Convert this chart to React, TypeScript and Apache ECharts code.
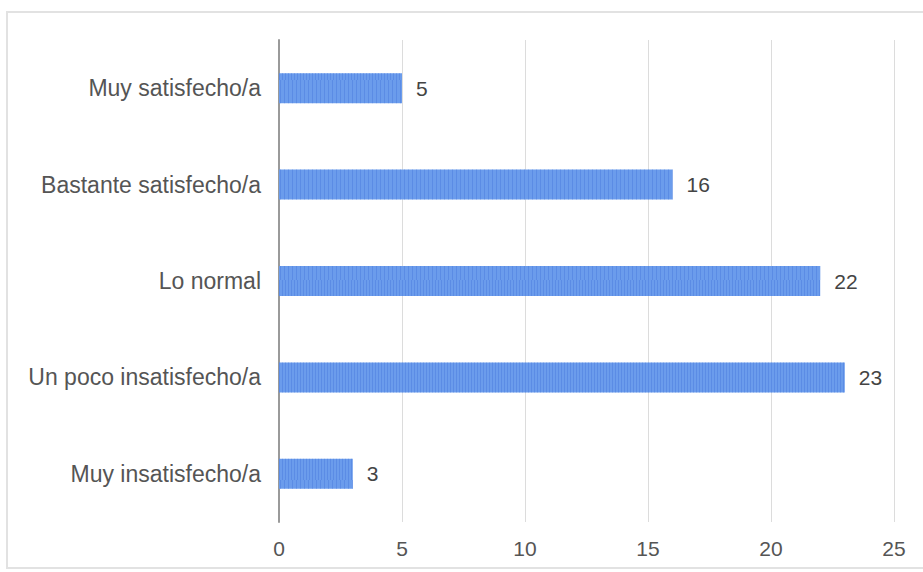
import React, { useEffect, useRef } from "react";
import * as echarts from "echarts";

const categories = [
  "Muy satisfecho/a",
  "Bastante satisfecho/a",
  "Lo normal",
  "Un poco insatisfecho/a",
  "Muy insatisfecho/a",
];
const values = [5, 16, 22, 23, 3];
const xTicks = [0, 5, 10, 15, 20, 25];

export default function App() {
  const ref = useRef<HTMLDivElement>(null);
  useEffect(() => {
    document.body.style.margin = "0";
    const chart = echarts.init(ref.current!, null, { renderer: "svg" });
    chart.setOption({
      animation: false,
      backgroundColor: "#ffffff",
      textStyle: { fontFamily: "Liberation Sans, Arial, sans-serif" },
      graphic: [
        {
          type: "rect",
          shape: { x: 7, y: 12, width: 940, height: 556 },
          style: { fill: "none", stroke: "#e2e2e2", lineWidth: 2 },
          silent: true,
        },
      ],
      grid: { left: 279, right: 29, top: 40, bottom: 50, containLabel: false },
      xAxis: {
        type: "value",
        min: xTicks[0],
        max: xTicks[xTicks.length - 1],
        interval: 5,
        axisLine: { show: false },
        axisTick: { show: false },
        splitLine: { show: true, lineStyle: { color: "#dcdcdc", width: 1 } },
        axisLabel: { color: "#555", fontSize: 21, margin: 16 },
      },
      yAxis: {
        type: "category",
        data: categories,
        inverse: true,
        axisLine: { show: true, lineStyle: { color: "#9a9a9a", width: 2 } },
        axisTick: { show: false },
        axisLabel: { color: "#555", fontSize: 23, margin: 18 },
      },
      series: [
        {
          type: "bar",
          data: values,
          barWidth: 30,
          itemStyle: {
            color: "#6b9cec",
            decal: {
              symbol: "rect",
              symbolSize: 1,
              dashArrayX: [[1, 2], [1, 3]],
              dashArrayY: [40, 0],
              rotation: 0,
              color: "rgba(70,120,220,0.45)",
            },
          },
          label: {
            show: true,
            position: "right",
            distance: 14,
            color: "#444",
            fontSize: 21,
          },
        },
      ],
    });
    return () => chart.dispose();
  }, []);
  return <div ref={ref} style={{ width: 923, height: 572 }} />;
}
